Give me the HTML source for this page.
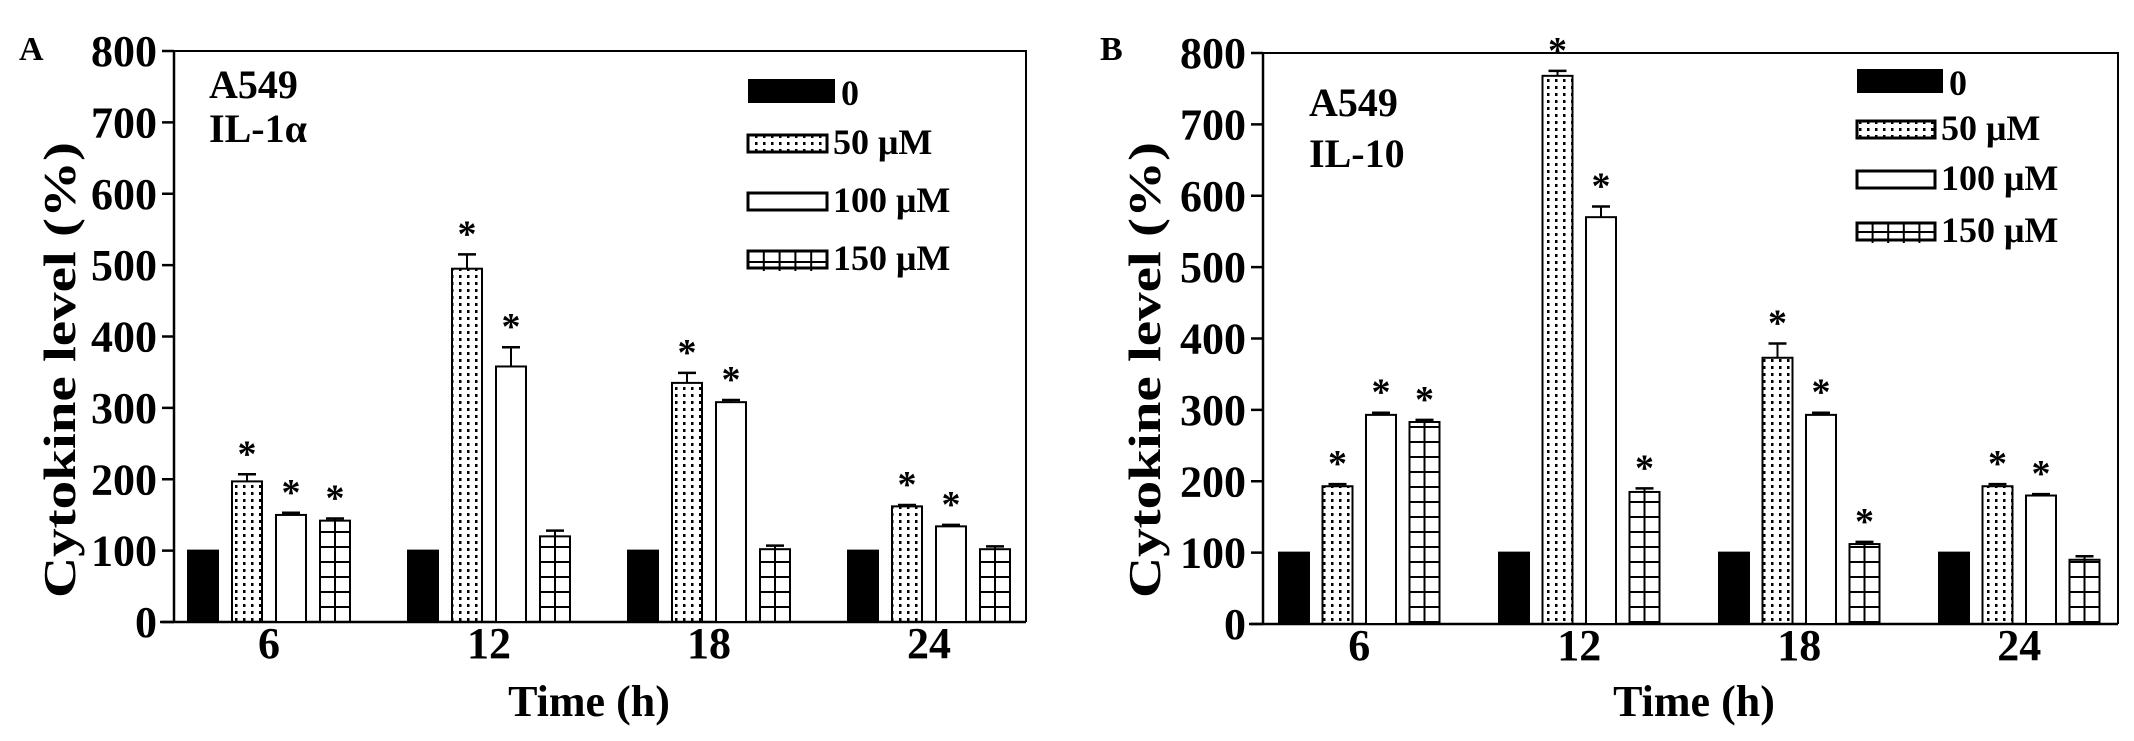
<!DOCTYPE html>
<html><head><meta charset="utf-8"><style>
html,body{margin:0;padding:0;background:#fff;}
svg{display:block;font-family:"Liberation Serif",serif;font-weight:bold;}
</style></head><body>
<svg id="chart" width="2134" height="741" viewBox="0 0 2134 741" xmlns="http://www.w3.org/2000/svg">
<defs>
<pattern id="dots" width="8" height="7" patternUnits="userSpaceOnUse"><rect x="3" y="2" width="2.5" height="3" fill="#000"/></pattern>
<pattern id="grid" width="30" height="15" patternUnits="userSpaceOnUse"><line x1="0" y1="7" x2="30" y2="7" stroke="#000" stroke-width="2"/></pattern>
</defs>
</svg>
<script>
const categories = ["6","12","18","24"];
const seriesNames = ["0","50 μM","100 μM","150 μM"];
const yTicks = [0,100,200,300,400,500,600,700,800];
const aValues = [[100,197,150,142],[100,495,358,120],[100,335,308,102],[100,162,134,102]];
const aErrors = [[0,10,3,3],[0,20,27,8],[0,14,3,5],[0,2,2,4]];
const aStars = [[0,1,1,1],[0,1,1,0],[0,1,1,0],[0,1,1,0]];
const bValues = [[100,193,293,283],[100,768,570,185],[100,373,293,112],[100,193,180,90]];
const bErrors = [[0,3,3,3],[0,7,15,5],[0,20,3,3],[0,3,2,5]];
const bStars = [[0,1,1,1],[0,1,1,1],[0,1,1,1],[0,1,1,0]];

const svg = document.getElementById('chart');
const NS = 'http://www.w3.org/2000/svg';
function mk(tag, attrs, parent){const e=document.createElementNS(NS,tag);for(const k in attrs)e.setAttribute(k,attrs[k]);(parent||svg).appendChild(e);return e;}
function txt(s, attrs, parent){const e=mk('text',attrs,parent);e.textContent=s;return e;}

function drawPanel(cfg, values, errors, stars){
  const g = mk('g',{});
  
  
  const y = v => cfg.y0 - v*(cfg.y0-cfg.yTop)/800;
  const fills = ['#000','url(#dots)','#fff','url(#grid)'];
  const fr = mk('path',{d:`M${cfg.ax} ${cfg.yTop} L${cfg.right} ${cfg.yTop} L${cfg.right} ${cfg.y0}`,fill:'none',stroke:'#000','stroke-width':2},g);
  
  
  const yl = mk('line',{x1:cfg.ax,y1:cfg.yTop,x2:cfg.ax,y2:cfg.y0,stroke:'#000','stroke-width':2.5},g);
  
  
  const xl = mk('line',{x1:cfg.ax-14,y1:cfg.y0,x2:cfg.right,y2:cfg.y0,stroke:'#000','stroke-width':2.5},g);
  
  
  yTicks.forEach(t=>{
    mk('line',{x1:cfg.ax-12,y1:y(t),x2:cfg.ax,y2:y(t),stroke:'#000','stroke-width':2.5},g);
    const tl = txt(String(t),{x:cfg.ax-17,y:y(t)+15,'text-anchor':'end','font-size':44},g);
    
    
  });
  categories.forEach((c,i)=>{
    const gx = cfg.gx0 + i*cfg.gp;
    values[i].forEach((v,j)=>{
      const bx = gx + j*cfg.bp;
      const bar = mk('rect',{x:bx,y:y(v),width:cfg.bw,height:cfg.y0-y(v),fill:fills[j],stroke:'#000','stroke-width':2},g);
      
      
      if(j===3){mk('line',{x1:bx+cfg.bw/2,y1:y(v),x2:bx+cfg.bw/2,y2:cfg.y0,stroke:'#000','stroke-width':2},g);}
      const e = errors[i][j];
      if(e>0){
        const cx = bx+cfg.bw/2;
        mk('line',{x1:cx,y1:y(v),x2:cx,y2:y(v+e),stroke:'#000','stroke-width':2},g);
        mk('line',{x1:cx-9,y1:y(v+e),x2:cx+9,y2:y(v+e),stroke:'#000','stroke-width':2.5},g);
      }
      if(stars[i][j]){
        const st = txt('*',{x:bx+cfg.bw/2,y:y(v+e)-8,'text-anchor':'middle','font-size':38},g);
        
        
      }
    });
    const xt = txt(c,{x:gx+(3*cfg.bp+cfg.bw)/2,y:cfg.y0+36,'text-anchor':'middle','font-size':44},g);
    
    
  });
  const yt = txt('Cytokine level (%)',{x:0,y:0,'text-anchor':'middle','font-size':46,textLength:456,lengthAdjust:'spacingAndGlyphs',transform:`translate(${cfg.ytx},370) rotate(-90)`},g);
  
  
  const xtt = txt('Time (h)',{x:cfg.xtx,y:716,'text-anchor':'middle','font-size':44},g);
  
  
  const pl = txt(cfg.letter,{x:cfg.lx,y:60,'font-size':34},g);
  
  
  const a1 = txt('A549',{x:cfg.annX,y:cfg.ann1,'font-size':40},g);
  
  
  const a2 = txt(cfg.cyto,{x:cfg.annX,y:cfg.ann2,'font-size':40},g);
  
  
  cfg.leg.forEach((ly,j)=>{
    const lg = mk('g',{},g);
    
    
    const w = j===0?cfg.legW:cfg.legW-8, h = j===0?24:17;
    mk('rect',{x:cfg.legX,y:ly-h,width:w,height:h,fill:fills[j],stroke:'#000','stroke-width':j===0?0:3},lg);
    if(j===3){for(let k=1;k<5;k++)mk('line',{x1:cfg.legX+k*w/5,y1:ly-h,x2:cfg.legX+k*w/5,y2:ly+3,stroke:'#000','stroke-width':2},lg);}
    txt(seriesNames[j],{x:cfg.legX+w+6,y:ly+2,'font-size':36},lg);
  });
}
drawPanel({name:'panel-a-il1a',ax:174,right:1026,yTop:51,y0:622,gx0:188,gp:220,bp:44,bw:30,ytx:75,xtx:589,letter:'A',lx:19,annX:209,ann1:98,ann2:142,cyto:'IL-1α',legX:748,legW:87,leg:[103,152,210,268]},aValues,aErrors,aStars);
drawPanel({name:'panel-b-il10',ax:1263,right:2118,yTop:53,y0:624,gx0:1279,gp:220,bp:43.5,bw:30,ytx:1160,xtx:1694,letter:'B',lx:1100,annX:1309,ann1:116,ann2:167,cyto:'IL-10',legX:1857,legW:86,leg:[93,138,188,240]},bValues,bErrors,bStars);
</script>
</body></html>
